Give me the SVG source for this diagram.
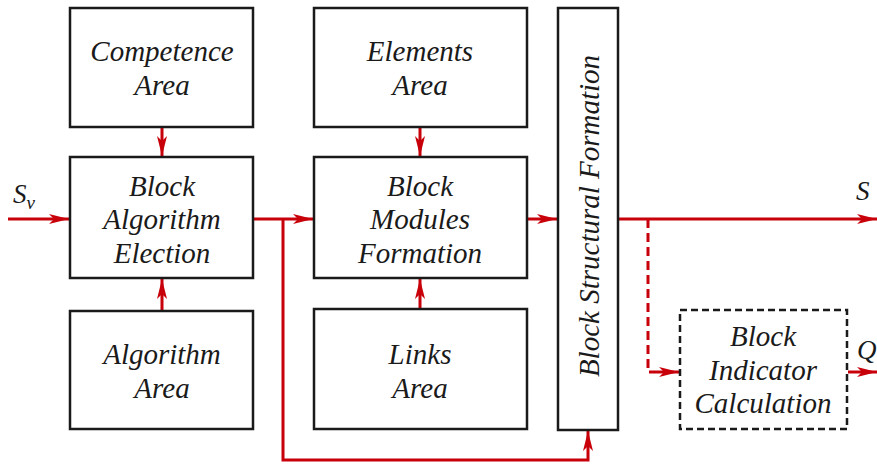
<svg xmlns="http://www.w3.org/2000/svg" width="877" height="466" viewBox="0 0 877 466">
  <style>
    .box { fill: #fff; stroke: #1a1a1a; stroke-width: 2.5; }
    .dash { fill: #fff; stroke: #1a1a1a; stroke-width: 2.5; stroke-dasharray: 7 4; }
    .lbl { font-family: "Liberation Serif", "Times New Roman", serif; font-style: italic; font-size: 29px; fill: #1a1a1a; text-anchor: middle; }
    .sig { font-family: "Liberation Serif", "Times New Roman", serif; font-style: italic; font-size: 27px; fill: #1a1a1a; }
    .wire { fill: none; stroke: #c8000a; stroke-width: 3; }
    .wire-d { fill: none; stroke: #c8000a; stroke-width: 3; stroke-dasharray: 9 5; }
  </style>
  <defs>
    <marker id="ah" viewBox="0 0 20 10" refX="20" refY="5" markerWidth="20" markerHeight="10" markerUnits="userSpaceOnUse" orient="auto">
      <path d="M0,0 L20,5 L0,10 L5,5 Z" fill="#c8000a"/>
    </marker>
  </defs>
  <rect width="877" height="466" fill="#fff"/>

  <!-- connectors -->
  <g id="connectors">
    <line class="wire" x1="8" y1="219" x2="69" y2="219" marker-end="url(#ah)"/>
    <line class="wire" x1="253" y1="219" x2="313" y2="219" marker-end="url(#ah)"/>
    <polyline class="wire" points="283,219 283,460 588,460 588,431" marker-end="url(#ah)"/>
    <line class="wire" x1="527" y1="219" x2="557" y2="219" marker-end="url(#ah)"/>
    <line class="wire" x1="619" y1="219" x2="877" y2="219" marker-end="url(#ah)"/>
    <polyline class="wire-d" points="648,219 648,372 660,372"/>
    <line class="wire" x1="658" y1="372" x2="679" y2="372" marker-end="url(#ah)"/>
    <line class="wire" x1="848" y1="372" x2="877" y2="372" marker-end="url(#ah)"/>
    <line class="wire" x1="162" y1="127" x2="162" y2="156" marker-end="url(#ah)"/>
    <line class="wire" x1="162" y1="311" x2="162" y2="279" marker-end="url(#ah)"/>
    <line class="wire" x1="420" y1="127" x2="420" y2="156" marker-end="url(#ah)"/>
    <line class="wire" x1="420" y1="309" x2="420" y2="279" marker-end="url(#ah)"/>
  </g>

  <g id="competence-area">
    <rect class="box" x="70" y="8" width="183" height="119"/>
    <text class="lbl" x="162" y="61">Competence</text>
    <text class="lbl" x="162" y="95">Area</text>
  </g>
  <g id="algorithm-election">
    <rect class="box" x="70" y="157" width="183" height="121"/>
    <text class="lbl" x="162" y="196">Block</text>
    <text class="lbl" x="162" y="229">Algorithm</text>
    <text class="lbl" x="162" y="263">Election</text>
  </g>
  <g id="algorithm-area">
    <rect class="box" x="70" y="311" width="183" height="118"/>
    <text class="lbl" x="162" y="364">Algorithm</text>
    <text class="lbl" x="162" y="398">Area</text>
  </g>
  <g id="elements-area">
    <rect class="box" x="314" y="8" width="213" height="119"/>
    <text class="lbl" x="420" y="61">Elements</text>
    <text class="lbl" x="420" y="95">Area</text>
  </g>
  <g id="modules-formation">
    <rect class="box" x="314" y="157" width="213" height="121"/>
    <text class="lbl" x="420" y="196">Block</text>
    <text class="lbl" x="420" y="229">Modules</text>
    <text class="lbl" x="420" y="263">Formation</text>
  </g>
  <g id="links-area">
    <rect class="box" x="314" y="309" width="213" height="120"/>
    <text class="lbl" x="420" y="364">Links</text>
    <text class="lbl" x="420" y="398">Area</text>
  </g>
  <g id="structural-formation">
    <rect class="box" x="558" y="8" width="60" height="422"/>
    <text class="lbl" transform="translate(599,216) rotate(-90)">Block Structural Formation</text>
  </g>
  <g id="indicator-calculation">
    <rect class="dash" x="680" y="310" width="167" height="119"/>
    <text class="lbl" x="763" y="346">Block</text>
    <text class="lbl" x="763" y="380">Indicator</text>
    <text class="lbl" x="763" y="413">Calculation</text>
  </g>

  <!-- signal labels -->
  <g id="signals">
    <text class="sig" x="13" y="203">S<tspan font-size="19" dy="6">v</tspan></text>
    <text class="sig" x="856" y="200">S</text>
    <text class="sig" x="857" y="359">Q</text>
  </g>
</svg>
